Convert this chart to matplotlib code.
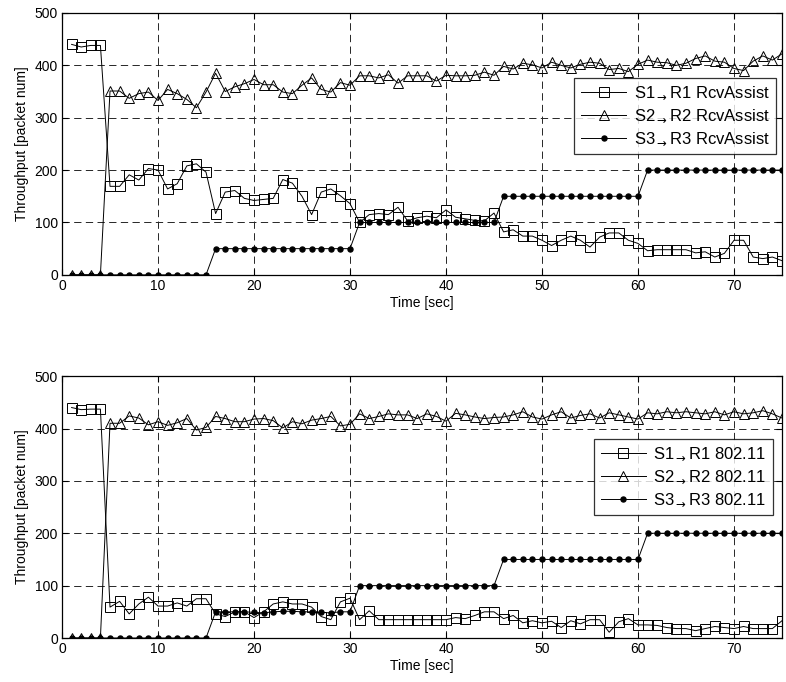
import matplotlib
matplotlib.use("Agg")
import matplotlib.pyplot as plt

plt.rcParams['font.family'] = ['Liberation Sans', 'DejaVu Sans']
plt.rcParams['mathtext.fontset'] = 'dejavusans'

time_sec = list(range(1, 76))

# RcvAssist throughput per second
s1_rcv = [440, 435, 438, 438, 169, 169, 191, 181, 203, 200, 164, 174, 208, 212, 196,
          117, 158, 161, 146, 142, 144, 146, 182, 175, 150, 115, 158, 164, 151, 136,
          100, 115, 117, 115, 129, 103, 109, 112, 109, 124, 110, 107, 104, 103, 118,
          82, 86, 74, 74, 66, 56, 66, 74, 66, 53, 72, 80, 80, 66, 60,
          46, 48, 48, 48, 48, 42, 44, 34, 41, 66, 66, 34, 31, 34, 27]
s2_rcv = [0, 0, 0, 0, 351, 351, 337, 346, 349, 333, 354, 346, 335, 319, 349,
          385, 350, 359, 365, 373, 363, 363, 349, 346, 362, 376, 354, 349, 367, 362,
          380, 380, 376, 382, 366, 380, 380, 380, 370, 381, 380, 380, 381, 387, 381,
          398, 393, 404, 401, 395, 406, 400, 395, 402, 406, 404, 392, 394, 388, 402,
          410, 406, 405, 400, 404, 413, 418, 408, 406, 394, 390, 408, 418, 410, 422]
s3_rcv = [0] * 15 + [50] * 15 + [100] * 15 + [150] * 15 + [200] * 15

# 802.11 throughput per second
s1_dcf = [440, 436, 437, 437, 59, 70, 46, 65, 78, 61, 61, 67, 61, 75, 75,
          46, 41, 50, 50, 39, 50, 65, 69, 65, 65, 59, 41, 35, 69, 76,
          35, 52, 35, 35, 35, 35, 35, 35, 35, 35, 39, 37, 43, 50, 50,
          37, 43, 29, 33, 29, 32, 20, 33, 27, 35, 35, 11, 31, 37, 25,
          25, 24, 20, 18, 18, 14, 18, 22, 20, 18, 22, 18, 18, 18, 33]
s2_dcf = [0, 0, 0, 0, 410, 410, 424, 420, 407, 413, 406, 411, 419, 397, 402,
          423, 419, 413, 413, 418, 419, 415, 401, 413, 409, 416, 419, 423, 405, 408,
          428, 419, 423, 428, 426, 426, 419, 428, 423, 414, 429, 426, 422, 419, 421,
          422, 426, 432, 422, 418, 426, 432, 420, 425, 428, 420, 430, 426, 422, 418,
          430, 428, 432, 430, 432, 430, 428, 432, 426, 432, 428, 430, 434, 428, 420]
s3_dcf = [0] * 15 + [50, 50, 50, 50, 49, 48, 50, 51, 51, 50, 50, 49, 48, 50, 50] \
         + [100] * 15 + [150] * 15 + [200] * 15

arrow = r"$_{\rightarrow}$"
labels_rcv = [f"S1{arrow}R1 RcvAssist", f"S2{arrow}R2 RcvAssist", f"S3{arrow}R3 RcvAssist"]
labels_dcf = [f"S1{arrow}R1 802.11", f"S2{arrow}R2 802.11", f"S3{arrow}R3 802.11"]

fig = plt.figure(figsize=(7.86, 6.82), dpi=100)
ax_top = fig.add_axes([0.0789, 0.597, 0.916, 0.384])
ax_bot = fig.add_axes([0.0789, 0.0645, 0.916, 0.384])


def draw_panel(ax, s1, s2, s3, labels, legend_anchor):
    ax.plot(time_sec, s1, color='black', lw=0.7, marker='s', ms=6.5,
            mfc='none', mec='black', mew=0.7, label=labels[0])
    ax.plot(time_sec, s2, color='black', lw=0.7, marker='^', ms=7.5,
            mfc='none', mec='black', mew=0.7, label=labels[1])
    ax.plot(time_sec, s3, color='black', lw=0.7, marker='o', ms=3.6,
            mfc='black', mec='black', label=labels[2])
    ax.set_xlim(0, 75)
    ax.set_ylim(0, 500)
    ax.set_xticks(range(0, 71, 10))
    ax.set_yticks(range(0, 501, 100))
    ax.grid(True, color='0.15', linestyle=(0, (7.5, 4.5)), linewidth=0.7)
    ax.set_axisbelow(True)
    ax.tick_params(direction='in', top=True, right=True, length=4,
                   labelsize=10, pad=3)
    for sp in ax.spines.values():
        sp.set_linewidth(0.9)
    ax.set_xlabel("Time [sec]", fontsize=10, labelpad=2)
    ax.set_ylabel("Throughput [packet num]", fontsize=10, labelpad=4)
    leg = ax.legend(loc='upper right', bbox_to_anchor=legend_anchor,
                    fontsize=12, frameon=True, fancybox=False,
                    edgecolor='black', handlelength=2.7, borderpad=0.4,
                    labelspacing=0.35, handletextpad=0.45, borderaxespad=0)
    leg.get_frame().set_linewidth(0.9)


draw_panel(ax_top, s1_rcv, s2_rcv, s3_rcv, labels_rcv, (0.992, 0.752))
draw_panel(ax_bot, s1_dcf, s2_dcf, s3_dcf, labels_dcf, (0.9875, 0.76))

fig.savefig("out.png", dpi=100)
